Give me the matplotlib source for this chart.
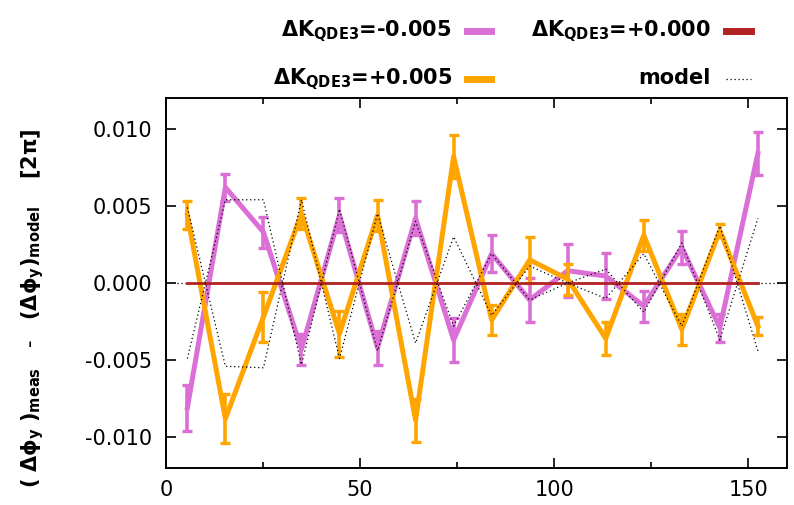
import numpy as np
import matplotlib
matplotlib.use('Agg')
import matplotlib.pyplot as plt

plt.rcParams['font.family'] = 'DejaVu Sans'
plt.rcParams['mathtext.fontset'] = 'dejavusans'
plt.rcParams['mathtext.default'] = 'bf'
plt.rcParams['axes.unicode_minus'] = False

# data
x = [5.5, 15.3, 25.1, 34.9, 44.7, 54.5, 64.3, 74.1, 83.9, 93.7, 103.5, 113.3, 123.1, 132.9, 142.7, 152.5]

dk_minus = [-0.0081, 0.0062, 0.0033, -0.0043, 0.0044, -0.0042, 0.0042, -0.0037,
            0.0019, -0.0011, 0.0008, 0.00045, -0.0015, 0.0023, -0.0029, 0.0084]
dk_minus_err = [0.0015, 0.0009, 0.0010, 0.0010, 0.0011, 0.0011, 0.0011, 0.0014,
                0.0012, 0.0014, 0.0017, 0.0015, 0.0010, 0.00105, 0.0009, 0.0014]

dk_plus = [0.0044, -0.0088, -0.0022, 0.0045, -0.0033, 0.0044, -0.0089, 0.0082,
           -0.0024, 0.0015, 0.00025, -0.0036, 0.0031, -0.0030, 0.0034, -0.0028]
dk_plus_err = [0.0009, 0.0016, 0.0016, 0.0010, 0.0015, 0.0010, 0.0014, 0.0014,
               0.0010, 0.0015, 0.0010, 0.0011, 0.0010, 0.0010, 0.0004, 0.0006]

dk_zero = [0.0] * 16

model_minus = [-0.0049, 0.0054, 0.0054, -0.0053, 0.0048, -0.0044, 0.0040, -0.0028,
               0.0019, -0.0011, 0.0, 0.0009, -0.0019, 0.0026, -0.0037, 0.0042]
model_plus = [0.0049, -0.0054, -0.0055, 0.0054, -0.0049, 0.0045, -0.0039, 0.0030,
              -0.0021, 0.0011, 0.0, -0.0010, 0.0019, -0.0028, 0.0037, -0.0044]
model_zero_x = [2.8, 160]
model_zero_y = [0.0, 0.0]

labels = ['$\\Delta K_{QDE3}$=-0.005', '$\\Delta K_{QDE3}$=+0.000',
          '$\\Delta K_{QDE3}$=+0.005', 'model']
c_minus = '#da70d6'
c_zero = '#b22222'
c_plus = '#ffa500'

W, H = 794, 505
fig = plt.figure(figsize=(W / 100, H / 100), dpi=100)
ax = fig.add_axes([166 / W, 37 / H, 621 / W, 370 / H])

ax.errorbar(x, dk_minus, yerr=dk_minus_err, color=c_minus, lw=3.6,
            elinewidth=2.6, capsize=3.6, capthick=2.4, zorder=2)
ax.errorbar(x, dk_plus, yerr=dk_plus_err, color=c_plus, lw=3.6,
            elinewidth=2.6, capsize=3.6, capthick=2.4, zorder=3)
ax.plot(x, dk_zero, color=c_zero, lw=2.0, zorder=4)

dots = (0, (1, 2.2))
ax.plot(x, model_minus, color='black', lw=0.9, ls=dots, zorder=5)
ax.plot(x, model_plus, color='black', lw=0.9, ls=dots, zorder=5)
ax.plot(model_zero_x, model_zero_y, color='black', lw=0.9, ls=dots, zorder=1)

ax.set_xlim(0, 160)
ax.set_ylim(-0.012, 0.012)
ax.set_xticks([0, 50, 100, 150])
ax.set_xticks([25, 75, 125], minor=True)
ax.set_yticks([-0.010, -0.005, 0.0, 0.005, 0.010])
ax.yaxis.set_major_formatter(matplotlib.ticker.FormatStrFormatter('%.3f'))
ax.tick_params(which='both', direction='in', top=True, right=True,
               labelsize=15, width=1.2)
ax.tick_params(which='major', length=7)
ax.tick_params(which='minor', length=4)
ax.tick_params(axis='x', pad=9)
ax.tick_params(axis='y', pad=10)
for s in ax.spines.values():
    s.set_linewidth(1.4)

# y label
fig.text(33 / W, 1 - 308 / H,
         r'$(\ \Delta\phi_y\ )_{meas}\ \ \ \text{-}\ \ \ (\Delta\phi_y)_{model}\ \ \ \ [2\pi]$',
         rotation=90, ha='center', va='center', fontsize=15)

# legend, gnuplot style (text right-aligned, sample after)
entries = [
    (labels[0], 452, 36, 467, 491, 31, dict(color=c_minus, lw=5)),
    (labels[1], 711, 36, 726, 751, 31, dict(color=c_zero, lw=5)),
    (labels[2], 452, 84, 467, 491, 79, dict(color=c_plus, lw=5)),
    (labels[3], 711, 84, 726, 751, 79, dict(color='black', lw=0.9, ls=dots)),
]
for lab, tx, ty, x0, x1, sy, kw in entries:
    fig.text(tx / W, 1 - ty / H, lab, ha='right', va='baseline',
             fontsize=15, fontweight='bold')
    fig.add_artist(matplotlib.lines.Line2D([x0 / W, x1 / W], [1 - sy / H, 1 - sy / H], **kw))

fig.savefig('out.png', dpi=100)
